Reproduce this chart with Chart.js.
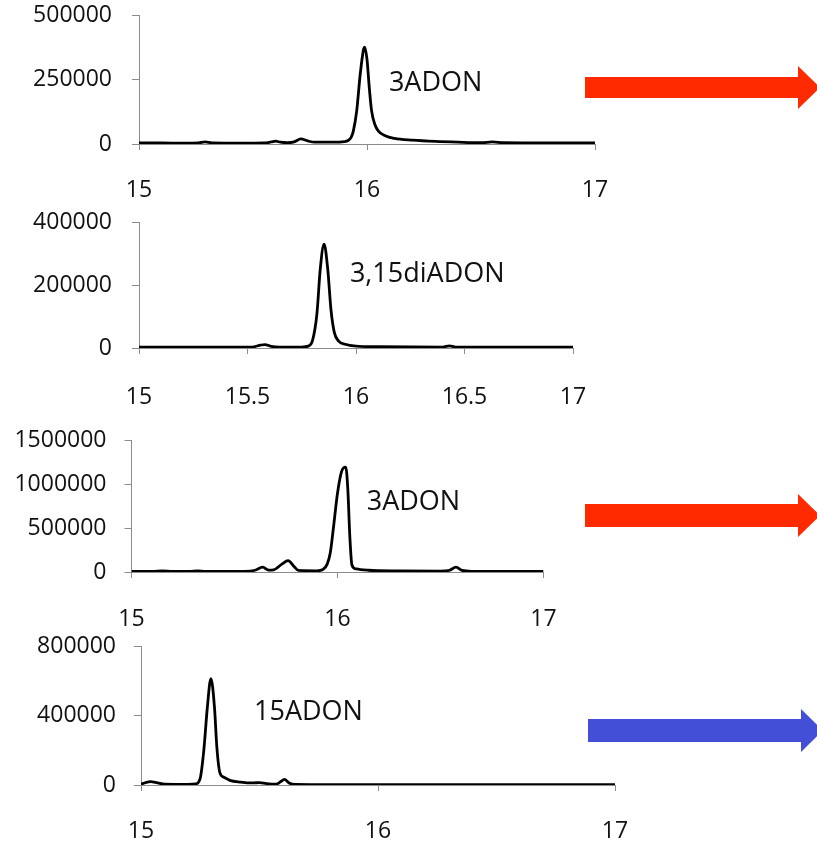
<!DOCTYPE html>
<html>
<head>
<meta charset="utf-8">
<script src="https://cdn.jsdelivr.net/npm/chart.js@4.4.1/dist/chart.umd.min.js"></script>
<style>
  body { margin: 0; background: #fff; }
  #page { position: relative; width: 817px; height: 842px; overflow: hidden; }
  #page canvas { position: absolute; left: 0; }
  #arrows { position: absolute; left: 0; top: 0; }
</style>
</head>
<body>
<div id="page">
  <canvas id="c1"></canvas>
  <canvas id="c2"></canvas>
  <canvas id="c3"></canvas>
  <canvas id="c4"></canvas>
  <svg id="arrows" width="817" height="842">
    <polygon points="585,77 798,77 798,66 820,87.5 798,109 798,98 585,98" fill="#ff2a00"/>
    <polygon points="585,504 798,504 798,494 820,515.5 798,537 798,527 585,527" fill="#ff2a00"/>
    <polygon points="588,719 801,719 801,709 823,730.5 801,752 801,742 588,742" fill="#434fd6"/>
  </svg>
</div>
<script>
// retention time (min) and signal for each chromatogram
const time1 = [15.00, 15.10, 15.20, 15.26, 15.29, 15.32, 15.45, 15.55, 15.58, 15.60, 15.62, 15.65, 15.68, 15.71, 15.74, 15.77, 15.85, 15.90, 15.93, 15.94, 15.955, 15.97, 15.985, 15.99, 16.00, 16.01, 16.02, 16.035, 16.05, 16.08, 16.12, 16.20, 16.30, 16.40, 16.50, 16.55, 16.60, 16.80, 17.00];
const signal1 = [4000, 4000, 3000, 4000, 8000, 4000, 3000, 4000, 8000, 11000, 7000, 5000, 8000, 20000, 12000, 7000, 7000, 9000, 25000, 50000, 130000, 270000, 370000, 378000, 330000, 220000, 130000, 75000, 50000, 32000, 22000, 15000, 10000, 7000, 5000, 8000, 5000, 4000, 4000];

const time2 = [15.00, 15.20, 15.40, 15.52, 15.56, 15.58, 15.61, 15.65, 15.75, 15.78, 15.80, 15.82, 15.835, 15.853, 15.87, 15.885, 15.90, 15.92, 15.95, 16.00, 16.10, 16.40, 16.43, 16.46, 17.00];
const signal2 = [3000, 3000, 3000, 3000, 9000, 11000, 5000, 3000, 3000, 6000, 25000, 110000, 250000, 332000, 250000, 120000, 50000, 22000, 12000, 6000, 4000, 3000, 7000, 3000, 3000];

const time3 = [15.00, 15.10, 15.15, 15.20, 15.28, 15.32, 15.36, 15.55, 15.60, 15.637, 15.665, 15.69, 15.73, 15.76, 15.79, 15.81, 15.90, 15.93, 15.95, 15.965, 15.98, 16.00, 16.02, 16.04, 16.05, 16.06, 16.07, 16.09, 16.15, 16.30, 16.50, 16.545, 16.575, 16.605, 16.65, 16.80, 17.00];
const signal3 = [8000, 8000, 14000, 8000, 8000, 14000, 8000, 8000, 20000, 55000, 22000, 25000, 90000, 130000, 60000, 18000, 14000, 30000, 90000, 220000, 500000, 900000, 1150000, 1200000, 950000, 400000, 80000, 35000, 20000, 12000, 10000, 20000, 55000, 18000, 8000, 8000, 8000];

const time4 = [15.00, 15.02, 15.04, 15.07, 15.10, 15.20, 15.23, 15.25, 15.265, 15.28, 15.295, 15.31, 15.32, 15.333, 15.35, 15.375, 15.42, 15.47, 15.50, 15.53, 15.57, 15.59, 15.605, 15.625, 15.65, 15.80, 17.00];
const signal4 = [5000, 14000, 19000, 12000, 5000, 4000, 6000, 40000, 200000, 450000, 616000, 450000, 220000, 70000, 45000, 27000, 17000, 12000, 14000, 8000, 5000, 20000, 33000, 12000, 3000, 2000, 2000];

// axis ticks
const xTicks1 = [15, 16, 17];
const xTicks2 = [15, 15.5, 16, 16.5, 17];
const xTicks3 = [15, 16, 17];
const xTicks4 = [15, 16, 17];
const yTicks1 = [0, 250000, 500000];
const yTicks2 = [0, 200000, 400000];
const yTicks3 = [0, 500000, 1000000, 1500000];
const yTicks4 = [0, 400000, 800000];

// peak names and where they sit (time, signal)
const peakNames = ['3ADON', '3,15diADON', '3ADON', '15ADON'];
const peakTimes = [16.096, 15.972, 16.142, 15.477];
const peakLevels = [238000, 235000, 800000, 418000];

Chart.defaults.font.family = '"Open Sans", sans-serif';
Chart.defaults.color = '#111';

const axisGrey = '#8c8c8c';
const tickSize = 23;

const peakLabel = {
  id: 'peakLabel',
  afterDatasetsDraw(chart, args, opts) {
    const ctx = chart.ctx;
    ctx.save();
    ctx.font = '27px "Open Sans", sans-serif';
    ctx.fillStyle = '#111';
    ctx.textAlign = 'left';
    ctx.textBaseline = 'middle';
    ctx.fillText(opts.text, chart.scales.x.getPixelForValue(opts.x), chart.scales.y.getPixelForValue(opts.y));
    ctx.restore();
  }
};

function makeChart(id, box, time, signal, xTicks, yTicks, n) {
  const canvas = document.getElementById(id);
  // the y axis reserves half a label line plus its tick padding above the plot
  const topPad = tickSize * 0.6 + box.yPad, bottomH = 80;
  canvas.width = 817;
  canvas.height = Math.round(box.bottom - box.top + topPad) + bottomH;
  canvas.style.top = (box.top - topPad) + 'px';

  return new Chart(canvas, {
    type: 'line',
    data: {
      datasets: [{
        data: time.map((t, i) => ({ x: t, y: signal[i] })),
        borderColor: '#000',
        borderWidth: 2.8,
        pointRadius: 0,
        cubicInterpolationMode: 'monotone',
        fill: false
      }]
    },
    options: {
      responsive: false,
      animation: false,
      layout: { padding: { top: topPad, left: 0, right: 817 - box.right, bottom: 0 } },
      plugins: {
        legend: { display: false },
        tooltip: { enabled: false },
        peakLabel: { text: peakNames[n], x: peakTimes[n], y: peakLevels[n] }
      },
      scales: {
        x: {
          type: 'linear',
          min: xTicks[0],
          max: xTicks[xTicks.length - 1],
          afterFit: s => { s.height = bottomH; },
          afterBuildTicks: s => { s.ticks = xTicks.map(v => ({ value: v })); },
          ticks: { autoSkip: false, maxRotation: 0, padding: box.xPad, font: { size: tickSize }, callback: v => String(v) },
          grid: { drawOnChartArea: false, drawTicks: true, tickLength: 6, color: axisGrey },
          border: { color: axisGrey, width: 1 }
        },
        y: {
          min: yTicks[0],
          max: yTicks[yTicks.length - 1],
          afterFit: s => { s.width = box.left; },
          afterBuildTicks: s => { s.ticks = yTicks.map(v => ({ value: v })); },
          ticks: { autoSkip: false, padding: box.yPad, font: { size: tickSize }, callback: v => String(v) },
          grid: { drawOnChartArea: false, drawTicks: true, tickLength: 7, color: axisGrey },
          border: { color: axisGrey, width: 1 }
        }
      }
    },
    plugins: [peakLabel]
  });
}

makeChart('c1', { top: 16, bottom: 144, left: 139, right: 595, xPad: 27, yPad: 20 }, time1, signal1, xTicks1, yTicks1, 0);
makeChart('c2', { top: 223, bottom: 348.5, left: 139, right: 573, xPad: 30, yPad: 20 }, time2, signal2, xTicks2, yTicks2, 1);
makeChart('c3', { top: 441, bottom: 572, left: 131.5, right: 543.5, xPad: 28, yPad: 18 }, time3, signal3, xTicks3, yTicks3, 2);
makeChart('c4', { top: 647, bottom: 785.3, left: 141, right: 615, xPad: 27, yPad: 18 }, time4, signal4, xTicks4, yTicks4, 3);
</script>
</body>
</html>
